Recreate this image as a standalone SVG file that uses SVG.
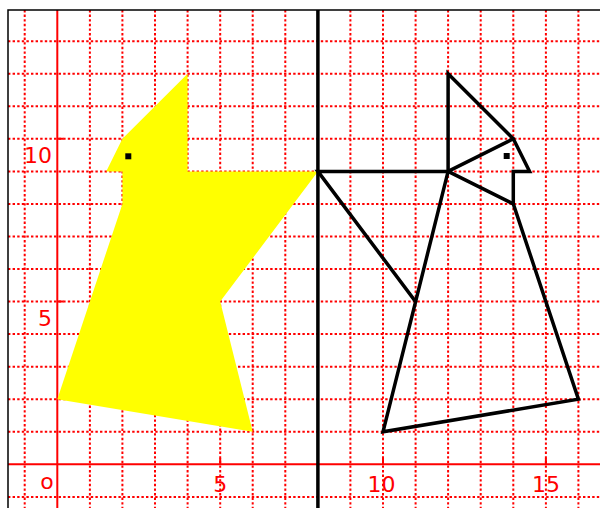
<svg xmlns="http://www.w3.org/2000/svg" width="600" height="508" viewBox="0 0 600 508">
<style>
.grid line{stroke:#ff0000;stroke-width:2;stroke-dasharray:2.4 2.2}
.axis{stroke:#ff0000;stroke-width:2;fill:none}
.lbl{font-family:"DejaVu Sans",sans-serif;font-size:22px;fill:#ff0000}
.blk{stroke:#000;stroke-width:3.5;fill:none;stroke-linejoin:miter;stroke-linecap:round}
</style>
<rect x="0" y="0" width="600" height="508" fill="#fff"/>
<g class="grid">
<line x1="24.7" y1="10" x2="24.7" y2="508"/>
<line x1="89.9" y1="10" x2="89.9" y2="508"/>
<line x1="122.4" y1="10" x2="122.4" y2="508"/>
<line x1="155" y1="10" x2="155" y2="508"/>
<line x1="187.6" y1="10" x2="187.6" y2="508"/>
<line x1="220.2" y1="10" x2="220.2" y2="508"/>
<line x1="252.7" y1="10" x2="252.7" y2="508"/>
<line x1="285.3" y1="10" x2="285.3" y2="508"/>
<line x1="350.4" y1="10" x2="350.4" y2="508"/>
<line x1="383" y1="10" x2="383" y2="508"/>
<line x1="415.6" y1="10" x2="415.6" y2="508"/>
<line x1="448.1" y1="10" x2="448.1" y2="508"/>
<line x1="480.7" y1="10" x2="480.7" y2="508"/>
<line x1="513.3" y1="10" x2="513.3" y2="508"/>
<line x1="545.9" y1="10" x2="545.9" y2="508"/>
<line x1="578.4" y1="10" x2="578.4" y2="508"/>
<line x1="8" y1="496.9" x2="600" y2="496.9"/>
<line x1="8" y1="431.8" x2="600" y2="431.8"/>
<line x1="8" y1="399.2" x2="600" y2="399.2"/>
<line x1="8" y1="366.7" x2="600" y2="366.7"/>
<line x1="8" y1="334.1" x2="600" y2="334.1"/>
<line x1="8" y1="301.6" x2="600" y2="301.6"/>
<line x1="8" y1="269" x2="600" y2="269"/>
<line x1="8" y1="236.5" x2="600" y2="236.5"/>
<line x1="8" y1="203.9" x2="600" y2="203.9"/>
<line x1="8" y1="171.4" x2="600" y2="171.4"/>
<line x1="8" y1="138.8" x2="600" y2="138.8"/>
<line x1="8" y1="106.3" x2="600" y2="106.3"/>
<line x1="8" y1="73.7" x2="600" y2="73.7"/>
<line x1="8" y1="41.2" x2="600" y2="41.2"/>
</g>
<g id="axes">
<line class="axis" x1="57.3" y1="10" x2="57.3" y2="508"/>
<line class="axis" x1="8" y1="464.3" x2="600" y2="464.3"/>
<path class="axis" d="M220.2 464.3V458M383 464.3V458M545.9 464.3V458M57.3 301.6H63.6M57.3 138.8H63.6"/>
</g>
<rect x="8" y="10" width="620" height="520" fill="none" stroke="#000" stroke-width="1.5"/>
<g id="yellow-shape">
<polygon fill="#ffff00" points="317.9,171.4 220.2,301.6 252.7,431.8 57.3,399.2 122.4,203.9 122.4,171.4 106.2,171.4 122.4,138.8 187.6,73.7 187.6,171.4"/>
<rect x="125.3" y="153.3" width="6" height="6" fill="#000"/>
</g>
<g id="black-shape">
<polygon class="blk" points="317.9,171.4 415.6,301.6 383,431.8 578.4,399.2 513.3,203.9 513.3,171.4 529.6,171.4 513.3,138.8 448.1,73.7 448.1,171.4"/>
<path class="blk" d="M448.1 171.4L513.3 138.8M448.1 171.4L513.3 203.9M448.1 171.4L415.6 301.6"/>
<rect x="503.7" y="153" width="6" height="6" fill="#000"/>
</g>
<g id="mirror-line">
<line x1="317.9" y1="10" x2="317.9" y2="508" stroke="#000" stroke-width="3.5"/>
</g>
<g id="labels">
<text class="lbl" x="47" y="489" text-anchor="middle">o</text>
<text class="lbl" x="220.2" y="491.5" text-anchor="middle">5</text>
<text class="lbl" x="381.5" y="491.5" text-anchor="middle">10</text>
<text class="lbl" x="545.9" y="491.5" text-anchor="middle">15</text>
<text class="lbl" x="52" y="325.6" text-anchor="end">5</text>
<text class="lbl" x="52" y="163" text-anchor="end">10</text>
</g>
</svg>
